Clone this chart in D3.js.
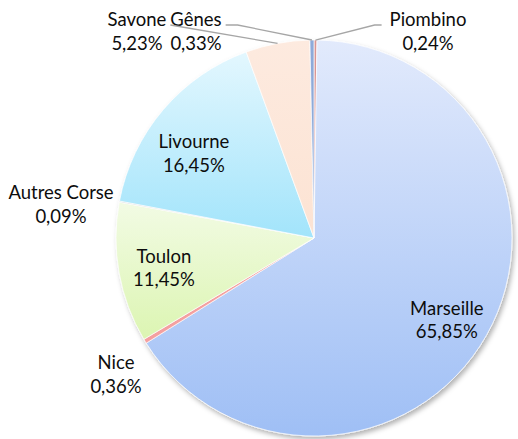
<!DOCTYPE html>
<html>
<head>
<meta charset="utf-8">
<script src="https://cdn.jsdelivr.net/npm/d3@7"></script>
<style>
  body { margin: 0; background: #fff; }
  text { font-family: Lato, "Open Sans", sans-serif; font-size: 18.5px; fill: #0d0d0d; }
</style>
</head>
<body>
<svg id="chart" width="518" height="439"></svg>
<script>
// Parts by port (%), clockwise from 12 o'clock
var ports = ["Piombino", "Marseille", "Nice", "Toulon", "Autres Corse", "Livourne", "Savone", "Gênes"];
var shares = [0.24, 65.85, 0.36, 11.45, 0.09, 16.45, 5.23, 0.33];
var insideLabels = ["Marseille", "Toulon", "Livourne"];

var svg = d3.select("#chart");
var cx = 314, cy = 238, radius = 198;
var lineH = 23.5;

var topColor = d3.scaleOrdinal().domain(ports)
    .range(["#d99594", "#e2eafc", "#f4a0a0", "#f2fbe4", "#c9c9c9", "#e3f7fe", "#fdeadf", "#8eaad9"]);
var bottomColor = d3.scaleOrdinal().domain(ports)
    .range(["#d99594", "#9fbff5", "#f4a0a0", "#dcf5b2", "#c9c9c9", "#a2e4fb", "#fce3d3", "#8eaad9"]);

var frFormat = d3.formatLocale({decimal: ",", thousands: " ", grouping: [3], currency: ["", "€"]}).format(".2f");

var defs = svg.append('defs');
var shadow = defs.append('filter').attr('id', 'shadow')
    .attr('x', '-10%').attr('y', '-10%').attr('width', '120%').attr('height', '120%');
shadow.append('feDropShadow')
    .attr('dx', 2).attr('dy', 3).attr('stdDeviation', 2.5)
    .attr('flood-color', '#000').attr('flood-opacity', 0.3);

ports.forEach(function (p, i) {
    var g = defs.append('linearGradient').attr('id', 'grad' + i)
        .attr('x1', 0).attr('y1', 0).attr('x2', 0).attr('y2', 1);
    g.append('stop').attr('offset', '0%').attr('stop-color', topColor(p));
    g.append('stop').attr('offset', '100%').attr('stop-color', bottomColor(p));
});

var data = ports.map(function (p, i) { return {port: p, share: shares[i], idx: i}; });
var pie = d3.pie().sort(null).value(function (d) { return d.share; });
var arcs = pie(data);

var arc = d3.arc().innerRadius(0).outerRadius(radius);
var labelArc = d3.arc().innerRadius(radius * 0.77).outerRadius(radius * 0.77);

var root = svg.append('g').attr('transform', "translate(" + cx + "," + cy + ")");

root.append('g')
    .attr('filter', 'url(#shadow)')
  .selectAll('path')
  .data(arcs)
  .join('path')
    .attr('d', arc)
    .attr('fill', function (d) { return "url(#grad" + d.data.idx + ")"; })
    .attr('stroke', '#ffffff')
    .attr('stroke-width', 0.7);

// outside label anchors (text block centre, first baseline), relative to pie centre
var outsidePos = {
    "Nice": [-198, 131],
    "Autres Corse": [-253, -39],
    "Savone": [-177, -212],
    "Gênes": [-118, -212],
    "Piombino": [114, -212]
};
// small nudges for labels placed inside slices
var insideNudge = {"Marseille": [0, 2], "Toulon": [0, -2], "Livourne": [-4, 9]};

function labelPos(d) {
    if (insideLabels.indexOf(d.data.port) >= 0) {
        var c = labelArc.centroid(d), n = insideNudge[d.data.port];
        return [c[0] + n[0], c[1] + n[1]];
    }
    return outsidePos[d.data.port];
}

var labels = root.append('g').selectAll('text')
  .data(arcs)
  .join('text')
    .attr('text-anchor', 'middle')
    .attr('transform', function (d) { return "translate(" + labelPos(d) + ")"; });
labels.append('tspan').attr('x', 0).attr('y', 0).text(function (d) { return d.data.port; });
labels.append('tspan').attr('x', 0).attr('y', lineH).text(function (d) { return frFormat(d.data.share) + "%"; });

// leader lines
function edgePoint(d) {
    var a = (d.startAngle + d.endAngle) / 2;
    return [Math.sin(a) * radius, -Math.cos(a) * radius];
}
var leaders = [
    {port: "Piombino", side: "left", elbow: 7, gap: 8},
    {port: "Gênes", side: "right", elbow: 12, gap: 4},
    {port: "Savone", side: "right", elbow: 0, gap: 4}
];
leaders.forEach(function (l) {
    var d = arcs.filter(function (a) { return a.data.port === l.port; })[0];
    var node = labels.filter(function (a) { return a.data.port === l.port; }).select('tspan').node();
    var w = node.getComputedTextLength();
    var pos = outsidePos[l.port];
    var y = pos[1] - 1;
    var x = l.side === "left" ? pos[0] - w / 2 - l.gap : pos[0] + w / 2 + l.gap;
    var ex = l.side === "left" ? x - l.elbow : x + l.elbow;
    var p = edgePoint(d);
    root.append('path')
        .attr('d', d3.line()([[x, y], [ex, y], p]))
        .attr('fill', 'none')
        .attr('stroke', '#a6a6a6')
        .attr('stroke-width', 1.3);
});
</script>
</body>
</html>
